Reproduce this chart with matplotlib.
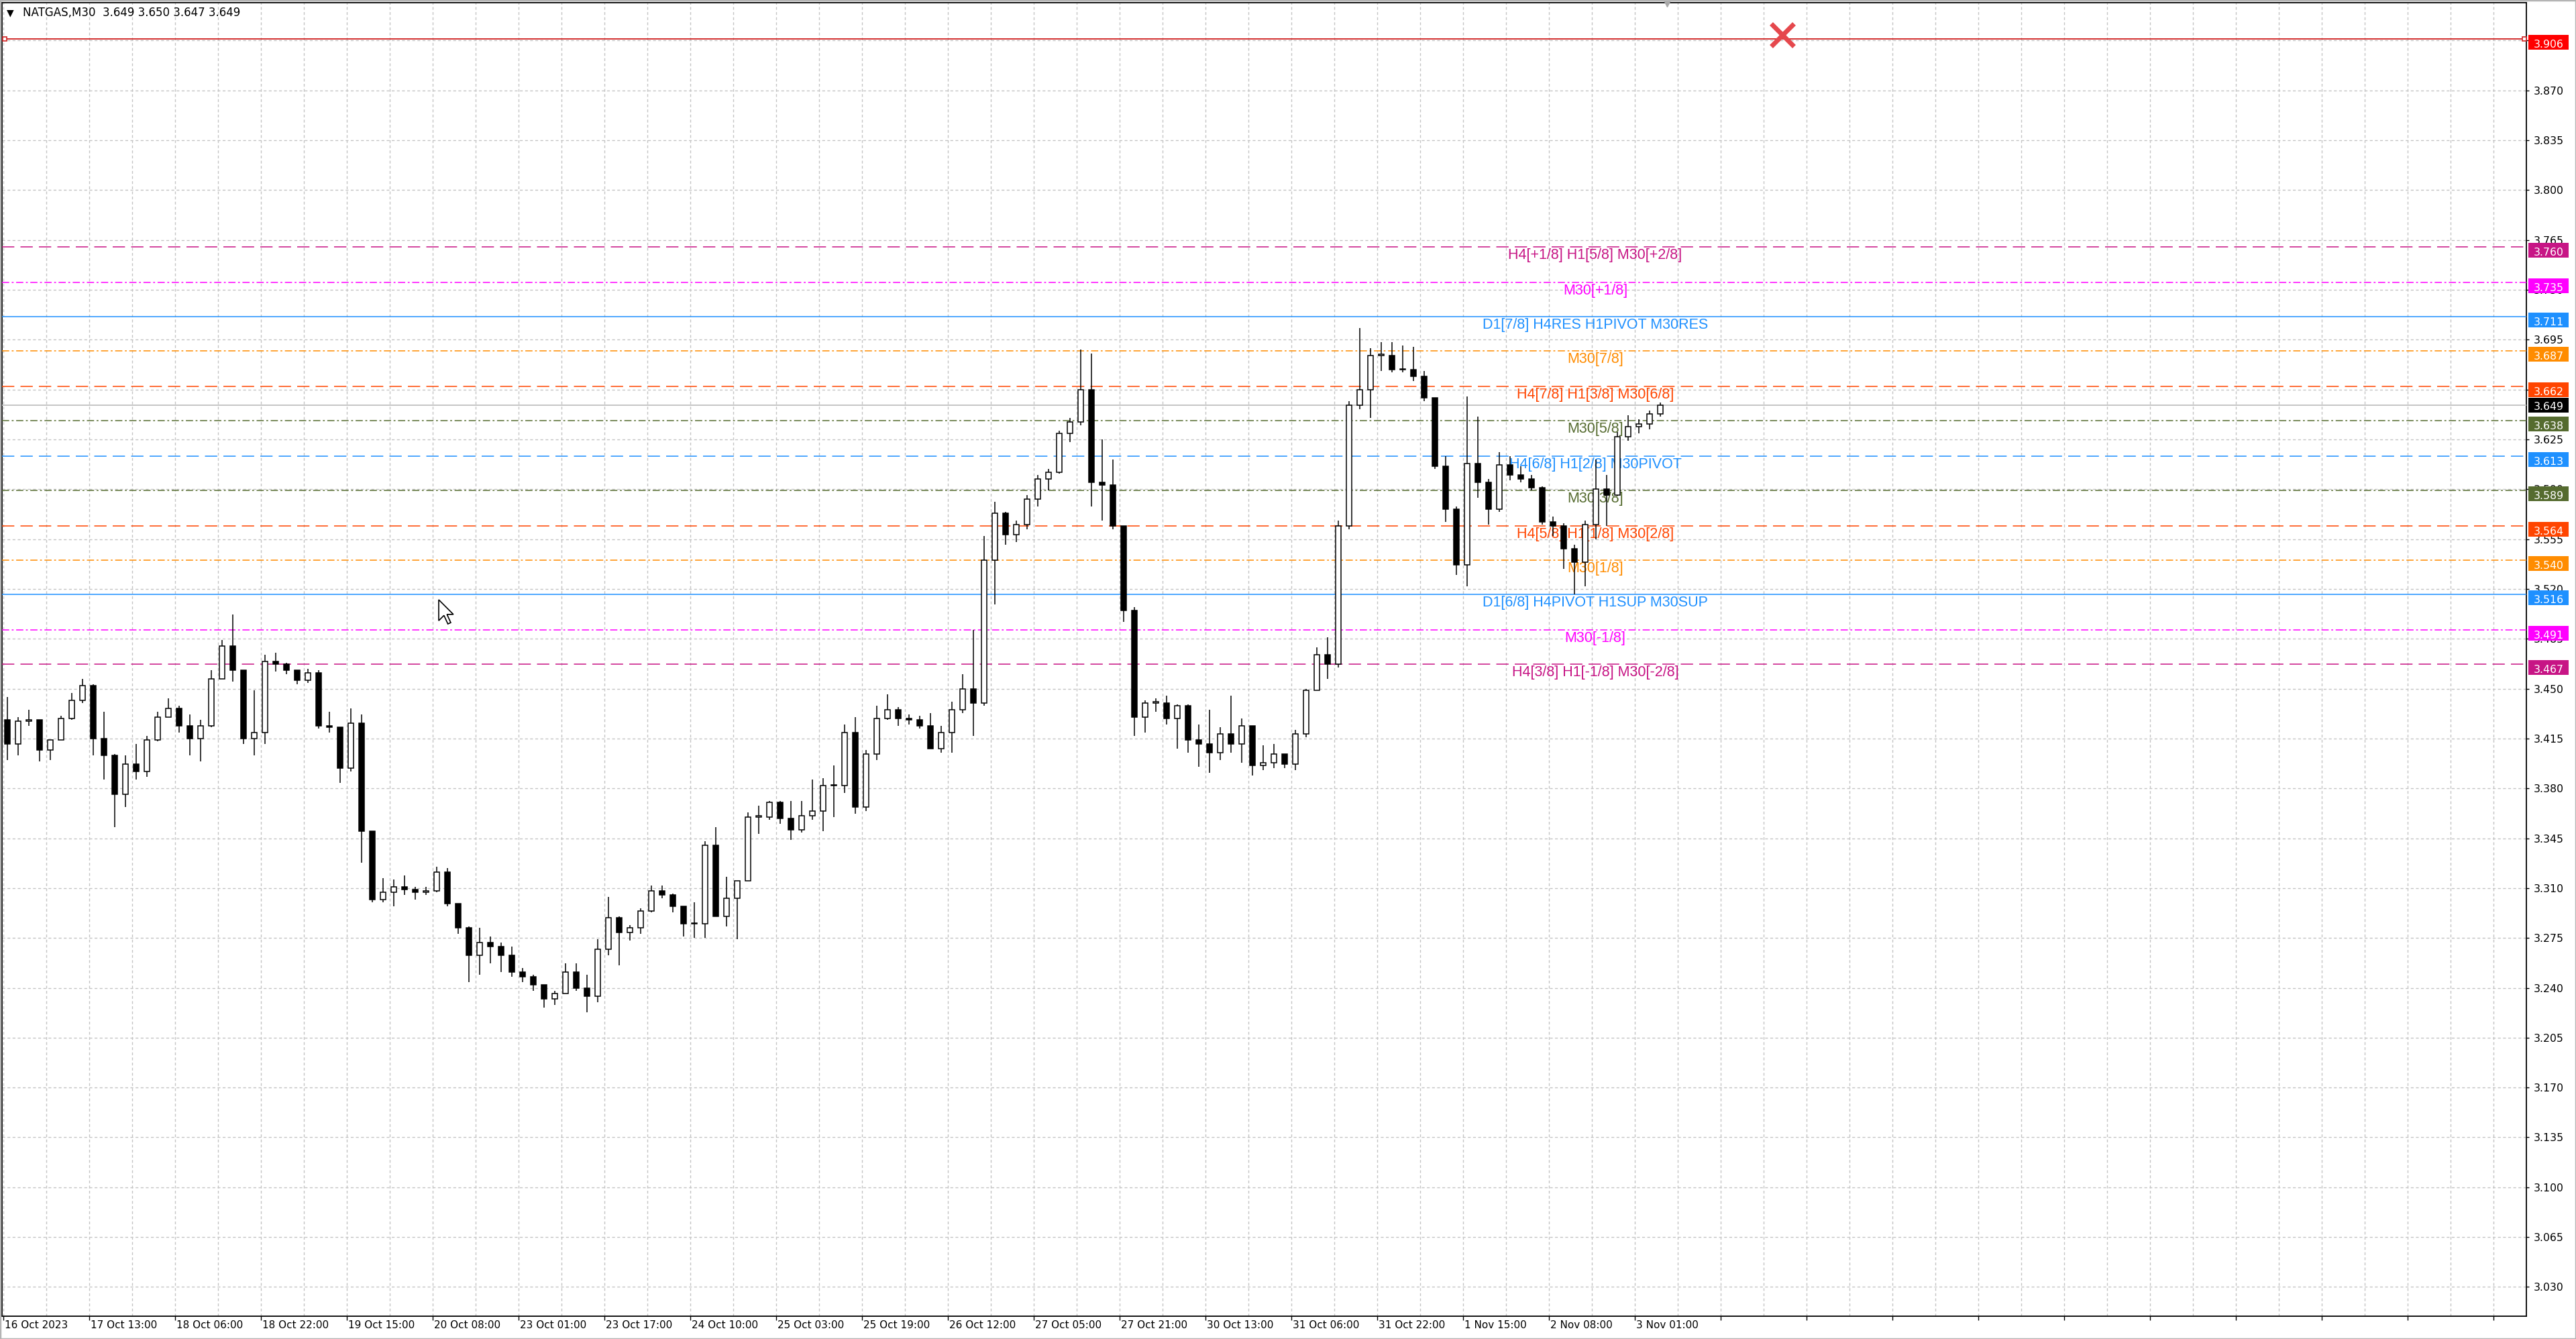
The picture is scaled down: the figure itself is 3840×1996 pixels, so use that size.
import numpy as np
import matplotlib
matplotlib.use("Agg")
import matplotlib.pyplot as plt
from matplotlib import transforms, font_manager
from matplotlib.patches import Rectangle, Polygon
from matplotlib.collections import LineCollection

# --- data: NATGAS M30, one candle per 4 bars (2 h) ---
opens = [
    3.428, 3.411, 3.427, 3.428, 3.407, 3.414, 3.429, 3.442, 3.452, 3.415,
    3.403, 3.376, 3.397, 3.392, 3.414, 3.430, 3.436, 3.424, 3.415, 3.424,
    3.457, 3.480, 3.463, 3.415, 3.419, 3.469, 3.467, 3.463, 3.456, 3.461,
    3.424, 3.423, 3.394, 3.426, 3.350, 3.302, 3.307, 3.311, 3.309, 3.307,
    3.308, 3.321, 3.299, 3.282, 3.263, 3.272, 3.269, 3.263, 3.251, 3.248,
    3.242, 3.232, 3.236, 3.251, 3.240, 3.234, 3.267, 3.289, 3.279, 3.282,
    3.294, 3.308, 3.305, 3.297, 3.285, 3.285, 3.340, 3.290, 3.303, 3.315,
    3.360, 3.360, 3.370, 3.359, 3.351, 3.361, 3.364, 3.382, 3.382, 3.419,
    3.367, 3.404, 3.429, 3.435, 3.429, 3.428, 3.424, 3.408, 3.419, 3.435,
    3.450, 3.440, 3.540, 3.573, 3.558, 3.565, 3.583, 3.597, 3.602, 3.629,
    3.637, 3.660, 3.595, 3.593, 3.564, 3.505, 3.430, 3.440, 3.440, 3.429,
    3.438, 3.414, 3.411, 3.405, 3.418, 3.411, 3.424, 3.396, 3.398, 3.404,
    3.397, 3.418, 3.449, 3.474, 3.467, 3.564, 3.649, 3.660, 3.684, 3.684,
    3.674, 3.674, 3.669, 3.654, 3.606, 3.576, 3.537, 3.608, 3.595, 3.576,
    3.607, 3.600, 3.597, 3.591, 3.567, 3.564, 3.548, 3.539, 3.565, 3.590,
    3.586, 3.627, 3.634, 3.636, 3.643,
]
highs = [
    3.444, 3.430, 3.435, 3.428, 3.414, 3.431, 3.447, 3.457, 3.453, 3.434,
    3.404, 3.403, 3.411, 3.417, 3.434, 3.443, 3.438, 3.432, 3.428, 3.463,
    3.484, 3.502, 3.463, 3.449, 3.474, 3.475, 3.468, 3.463, 3.464, 3.463,
    3.434, 3.423, 3.436, 3.432, 3.350, 3.317, 3.316, 3.319, 3.311, 3.311,
    3.325, 3.324, 3.299, 3.283, 3.282, 3.276, 3.272, 3.269, 3.254, 3.249,
    3.242, 3.238, 3.257, 3.257, 3.249, 3.274, 3.304, 3.290, 3.284, 3.296,
    3.312, 3.312, 3.306, 3.297, 3.300, 3.343, 3.353, 3.318, 3.315, 3.363,
    3.368, 3.371, 3.371, 3.371, 3.371, 3.386, 3.387, 3.396, 3.425, 3.430,
    3.407, 3.438, 3.446, 3.437, 3.432, 3.431, 3.433, 3.424, 3.441, 3.460,
    3.491, 3.557, 3.581, 3.574, 3.568, 3.586, 3.600, 3.604, 3.631, 3.640,
    3.688, 3.685, 3.625, 3.611, 3.564, 3.507, 3.442, 3.443, 3.445, 3.439,
    3.439, 3.425, 3.435, 3.423, 3.445, 3.429, 3.424, 3.410, 3.411, 3.404,
    3.421, 3.450, 3.479, 3.486, 3.568, 3.652, 3.703, 3.689, 3.693, 3.693,
    3.691, 3.690, 3.673, 3.654, 3.613, 3.578, 3.655, 3.641, 3.597, 3.616,
    3.613, 3.606, 3.600, 3.592, 3.571, 3.566, 3.551, 3.568, 3.611, 3.600,
    3.630, 3.642, 3.639, 3.645, 3.651,
]
lows = [
    3.400, 3.403, 3.424, 3.399, 3.400, 3.414, 3.428, 3.440, 3.403, 3.386,
    3.353, 3.367, 3.386, 3.388, 3.413, 3.430, 3.419, 3.403, 3.399, 3.423,
    3.457, 3.455, 3.411, 3.403, 3.411, 3.462, 3.460, 3.453, 3.454, 3.422,
    3.419, 3.384, 3.392, 3.328, 3.300, 3.300, 3.297, 3.305, 3.302, 3.305,
    3.307, 3.297, 3.278, 3.244, 3.249, 3.257, 3.251, 3.248, 3.244, 3.238,
    3.226, 3.228, 3.236, 3.238, 3.223, 3.230, 3.263, 3.256, 3.273, 3.278,
    3.293, 3.303, 3.293, 3.276, 3.275, 3.275, 3.290, 3.283, 3.274, 3.315,
    3.348, 3.358, 3.355, 3.344, 3.349, 3.358, 3.350, 3.360, 3.377, 3.362,
    3.364, 3.400, 3.428, 3.424, 3.425, 3.422, 3.408, 3.405, 3.405, 3.433,
    3.417, 3.438, 3.509, 3.551, 3.553, 3.562, 3.578, 3.589, 3.601, 3.623,
    3.635, 3.578, 3.568, 3.562, 3.497, 3.417, 3.419, 3.434, 3.425, 3.408,
    3.405, 3.395, 3.391, 3.400, 3.405, 3.398, 3.389, 3.393, 3.394, 3.394,
    3.393, 3.416, 3.449, 3.457, 3.465, 3.562, 3.646, 3.640, 3.673, 3.672,
    3.672, 3.666, 3.652, 3.604, 3.567, 3.530, 3.522, 3.584, 3.565, 3.574,
    3.596, 3.595, 3.589, 3.565, 3.557, 3.534, 3.516, 3.522, 3.555, 3.564,
    3.586, 3.624, 3.629, 3.632, 3.641,
]
closes = [
    3.411, 3.427, 3.428, 3.407, 3.414, 3.429, 3.442, 3.452, 3.415, 3.403,
    3.376, 3.397, 3.392, 3.414, 3.430, 3.436, 3.424, 3.415, 3.424, 3.457,
    3.480, 3.463, 3.415, 3.419, 3.469, 3.467, 3.463, 3.456, 3.461, 3.424,
    3.423, 3.394, 3.426, 3.350, 3.302, 3.307, 3.311, 3.309, 3.307, 3.308,
    3.321, 3.299, 3.282, 3.263, 3.272, 3.269, 3.263, 3.251, 3.248, 3.242,
    3.232, 3.236, 3.251, 3.240, 3.234, 3.267, 3.289, 3.279, 3.282, 3.294,
    3.308, 3.305, 3.297, 3.285, 3.285, 3.340, 3.290, 3.303, 3.315, 3.360,
    3.360, 3.370, 3.359, 3.351, 3.361, 3.364, 3.382, 3.382, 3.419, 3.367,
    3.404, 3.429, 3.435, 3.429, 3.428, 3.424, 3.408, 3.419, 3.435, 3.450,
    3.440, 3.540, 3.573, 3.558, 3.565, 3.583, 3.597, 3.602, 3.629, 3.637,
    3.660, 3.595, 3.593, 3.564, 3.505, 3.430, 3.440, 3.440, 3.429, 3.438,
    3.414, 3.411, 3.405, 3.418, 3.411, 3.424, 3.396, 3.398, 3.404, 3.397,
    3.418, 3.449, 3.474, 3.467, 3.564, 3.649, 3.660, 3.684, 3.684, 3.674,
    3.674, 3.669, 3.654, 3.606, 3.576, 3.537, 3.608, 3.595, 3.576, 3.607,
    3.600, 3.597, 3.591, 3.567, 3.564, 3.548, 3.539, 3.565, 3.590, 3.586,
    3.627, 3.634, 3.636, 3.643, 3.649,
]
BARS_PER_CANDLE = 4

date_labels = ["16 Oct 2023", "17 Oct 13:00", "18 Oct 06:00", "18 Oct 22:00",
               "19 Oct 15:00", "20 Oct 08:00", "23 Oct 01:00", "23 Oct 17:00",
               "24 Oct 10:00", "25 Oct 03:00", "25 Oct 19:00", "26 Oct 12:00",
               "27 Oct 05:00", "27 Oct 21:00", "30 Oct 13:00", "31 Oct 06:00",
               "31 Oct 22:00", "1 Nov 15:00", "2 Nov 08:00", "3 Nov 01:00"]
BARS_PER_LABEL = 32

# Murrey / pivot levels: price, colour, style, label
level_prices = [3.760, 3.735, 3.711, 3.687, 3.662, 3.638, 3.613,
                3.589, 3.564, 3.540, 3.516, 3.491, 3.467]
level_colors = ["#C71585", "#FF00FF", "#1E90FF", "#FF8C00", "#FF4500", "#556B2F", "#1E90FF",
                "#556B2F", "#FF4500", "#FF8C00", "#1E90FF", "#FF00FF", "#C71585"]
level_styles = ["dash", "dashdot", "solid", "dashdot", "dash", "dashdot", "dash",
                "dashdot", "dash", "dashdot", "solid", "dashdot", "dash"]
level_labels = ["H4[+1/8] H1[5/8] M30[+2/8]", "M30[+1/8]", "D1[7/8] H4RES H1PIVOT M30RES",
                "M30[7/8]", "H4[7/8] H1[3/8] M30[6/8]", "M30[5/8]", "H4[6/8] H1[2/8] M30PIVOT",
                "M30[3/8]", "H4[5/8] H1[1/8] M30[2/8]", "M30[1/8]", "D1[6/8] H4PIVOT H1SUP M30SUP",
                "M30[-1/8]", "H4[3/8] H1[-1/8] M30[-2/8]"]
LABEL_BAR = 593.25

stop_price = 3.906
bid, ask_hi, ask_lo = 3.649, 3.650, 3.647
marker_bar, marker_price = 663, 3.909

# --- fonts ---
def has_font(name):
    try:
        font_manager.findfont(font_manager.FontProperties(family=name), fallback_to_default=False)
        return True
    except Exception:
        return False

if has_font("Liberation Sans Narrow"):
    MT_FONT, MT_SIZE, DATE_SIZE, TITLE_SIZE = "Liberation Sans Narrow", 15.8, 15.5, 15.5
else:
    MT_FONT, MT_SIZE, DATE_SIZE, TITLE_SIZE = "DejaVu Sans", 11.3, 11.0, 12.0
plt.rcParams["font.family"] = [MT_FONT, "DejaVu Sans"]

# --- figure / axes geometry in pixels ---
W, H = 3840, 1996
AX_L, AX_R, AX_T, AX_B = 3, 3766, 4, 1962
XLIM = (-0.5, 940.25)
YLIM = (3.0095, 3.9315)
fig = plt.figure(figsize=(W / 100, H / 100), dpi=100, facecolor="white")
ax = fig.add_axes([AX_L / W, 1 - AX_B / H, (AX_R - AX_L) / W, (AX_B - AX_T) / H])
px = (YLIM[1] - YLIM[0]) / (AX_B - AX_T)   # price per pixel

# grid & ticks
yt = 3.030 + 0.035 * np.arange(26)
ax.set_yticks(yt)
ax.set_yticklabels([f"{v:.3f}" for v in yt])
ax.yaxis.tick_right()
ax.tick_params(axis="y", direction="out", length=3, width=1, pad=4.5, labelsize=MT_SIZE)

major = np.arange(0, XLIM[1], BARS_PER_LABEL)
minor = np.arange(BARS_PER_LABEL / 2, XLIM[1], BARS_PER_LABEL)
ax.set_xticks(major)
ax.set_xticklabels(date_labels + [""] * (len(major) - len(date_labels)))
ax.set_xticks(minor, minor=True)
ax.tick_params(axis="x", which="major", direction="out", length=4, width=1, pad=0.5, labelsize=DATE_SIZE)
ax.tick_params(axis="x", which="minor", length=0)
shift = transforms.ScaledTranslation(2 / 100, 0, fig.dpi_scale_trans)
for lab in ax.get_xticklabels():
    lab.set_horizontalalignment("left")
    lab.set_transform(lab.get_transform() + shift)
ax.grid(True, which="both", color="#C4C4C4", linestyle=(0, (3, 2.5)), lw=1, zorder=0)
ax.set_axisbelow(True)
for sp in ax.spines.values():
    sp.set_color("black")
    sp.set_linewidth(1.3)

# level lines and their labels
DASHES = {"dash": (12, 6), "dashdot": (7, 2.5, 1.8, 2.5)}
for p, c, st, lab in zip(level_prices, level_colors, level_styles, level_labels):
    if st == "solid":
        ax.axhline(p, color=c, lw=1.1, zorder=3)
    else:
        ax.axhline(p, color=c, lw=1.1, dashes=DASHES[st], zorder=3)
    ax.annotate(lab, (LABEL_BAR, p), xytext=(0, -1), textcoords="offset points",
                ha="center", va="top", fontsize=15.5, color=c,
                family=["Liberation Sans", "DejaVu Sans"], zorder=4)

# stop line with selection squares, bid line
ax.axhline(stop_price, color="#D02020", lw=1.3, zorder=3)
ax.plot([0.5, 939.6], [stop_price, stop_price], "s", ms=4, mfc="white", mec="#D02020",
        mew=1.2, clip_on=False, zorder=4)
ax.axhline(bid, color="#C0C0C0", lw=1.3, zorder=3)

# candles
k = np.arange(len(closes))
xc = BARS_PER_CANDLE * k + 1.5
o, h, l, c = map(np.asarray, (opens, highs, lows, closes))
wicks = LineCollection([[(x, lo), (x, hi)] for x, lo, hi in zip(xc, l, h)],
                       colors="black", linewidths=1.1, zorder=5)
ax.add_collection(wicks)
up = c >= o
body_h = np.maximum(np.abs(c - o), 0.0006)
ax.bar(xc[up], body_h[up], bottom=np.minimum(o, c)[up], width=2.0, color="white",
       edgecolor="black", linewidth=1.1, zorder=6)
ax.bar(xc[~up], body_h[~up], bottom=np.minimum(o, c)[~up], width=2.0, color="black",
       edgecolor="black", linewidth=1.1, zorder=6)

# red cross marker and chart-shift triangle
ax.plot(marker_bar, marker_price, marker="x", ms=24, mew=5, color="#E5484D", zorder=7)
tb = transforms.blended_transform_factory(ax.transData, ax.transAxes)
ax.plot(620, 1.0, marker="v", ms=9, color="#A8A8A8", transform=tb, clip_on=False, zorder=8)

ax.set_xlim(*XLIM)
ax.set_ylim(*YLIM)

# price boxes on the right scale
box_prices = [stop_price] + level_prices[:5] + [bid] + level_prices[5:]
box_colors = ["#FF0000"] + level_colors[:5] + ["#000000"] + level_colors[5:]
trans = transforms.blended_transform_factory(ax.transAxes, ax.transData)
axw = AX_R - AX_L
bx0, bw = 1 + 3 / axw, 60 / axw
for p, col in zip(box_prices, box_colors):
    yc = p if p == bid else p - 5 * px
    ax.add_patch(Rectangle((bx0, yc - 11 * px), bw, 22 * px, transform=trans,
                           fc=col, ec="none", clip_on=False, zorder=10))
    ax.text(bx0 + bw / 2, yc - 7.5 * px, f"{p:.3f}", transform=trans, ha="center",
            va="baseline", color="white", fontsize=MT_SIZE, clip_on=False, zorder=11)

# header
fig.text(10 / W, 1 - 19 / H, "\u25BC", family="DejaVu Sans", fontsize=10, va="center", ha="left")
fig.text(34 / W, 1 - 19 / H, f"NATGAS,M30  {bid:.3f} {ask_hi:.3f} {ask_lo:.3f} {bid:.3f}",
         fontsize=TITLE_SIZE, va="center", ha="left")

# mouse pointer
tip_x, tip_y, s = 654, H - 894, 1.95
pts = [(0, 0), (0, 16), (4, 12), (7, 18.5), (9.2, 17.5), (6.3, 11.2), (11.2, 11.2)]
fig.add_artist(Polygon([(tip_x + s * a, tip_y - s * b) for a, b in pts], closed=True,
                       fc="white", ec="black", lw=1.2, transform=None, zorder=20))

# window border
fig.add_artist(Rectangle((0, 0), 1, 1, transform=fig.transFigure, fc="none",
                         ec="#B4B4B4", lw=2.5, zorder=30))

fig.savefig("out.png", dpi=100, facecolor="white")
